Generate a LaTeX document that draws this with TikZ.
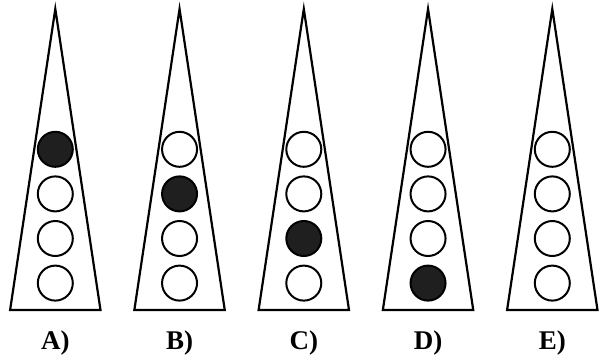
\documentclass[tikz,border=0pt]{standalone}
\usepackage{fontspec}
\setmainfont{Liberation Serif}
\begin{document}
\begin{tikzpicture}[x=1pt,y=-1pt,
  tri/.style={draw=black,line width=2.2pt,line join=miter},
  ball/.style={circle,draw=black,line width=2pt,minimum size=35pt,inner sep=0pt},
  full/.style={ball,fill=black!88},
  lab/.style={font=\fontsize{27}{30}\selectfont\bfseries,anchor=base}]
\useasboundingbox (0,0) rectangle (606,362);
\foreach \i/\L/\f in {0/A/1,1/B/2,2/C/3,3/D/4,4/E/0}{
  \pgfmathsetmacro{\cx}{55.3+124.25*\i}
  \coordinate (apex\L) at (\cx,9);
  \coordinate (bl\L) at (\cx-45.2,310);
  \coordinate (br\L) at (\cx+45.2,310);
  \draw[tri] (apex\L) -- (br\L) -- (bl\L) -- cycle;
  \foreach \k in {1,2,3,4}{
    \pgfmathsetmacro{\cy}{149.3+44.6*(\k-1)}
    \ifnum\k=\f
      \node[full] (c\L\k) at (\cx,\cy) {};
    \else
      \node[ball] (c\L\k) at (\cx,\cy) {};
    \fi
  }
  \node[lab] (lab\L) at (\cx,349) {\L)};
}
\end{tikzpicture}
\end{document}
